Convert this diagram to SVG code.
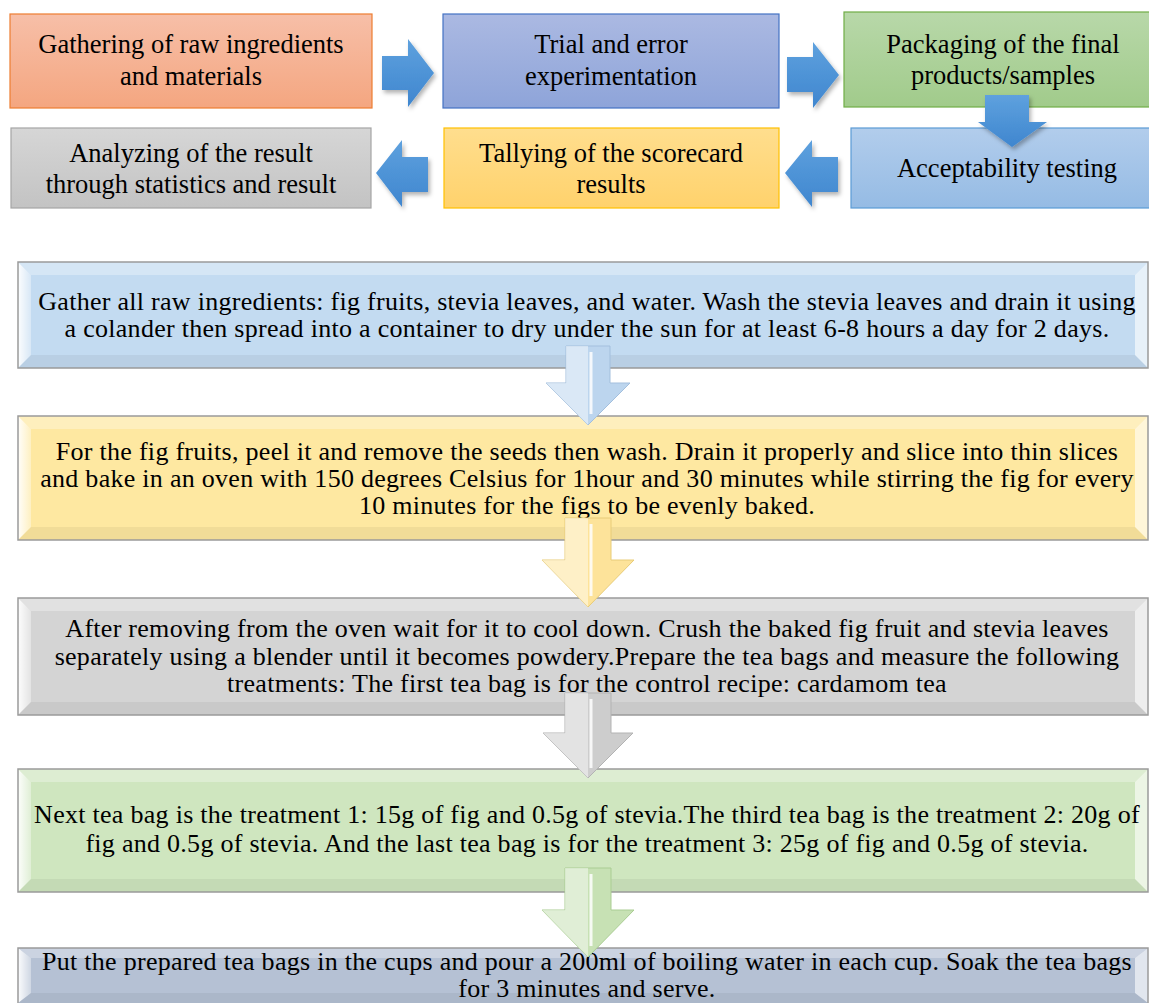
<svg xmlns="http://www.w3.org/2000/svg" width="1149" height="1003" viewBox="0 0 1149 1003">
<style>
.t{font-family:"Liberation Serif","Times New Roman",serif;fill:#000;text-anchor:middle}
.top{font-size:26.5px}
.bt{font-size:26px;letter-spacing:0.28px}
.edge{fill:none;stroke:#9a9a9a;stroke-width:1.5}
.hl{fill:#fff;opacity:.3}
.hl2{fill:url(#lbev)}
.hr{fill:#fff;opacity:.6}
.sh{fill:#000;opacity:.05}
.arr{fill:url(#ablue);filter:url(#ds)}
.darr-l{fill:#fff;opacity:.45}
.ridge{stroke:#fff;stroke-width:3;opacity:.85}
</style>
<defs>
<filter id="ds" x="-30%" y="-30%" width="160%" height="160%">
<feDropShadow dx="2" dy="3" stdDeviation="2" flood-color="#000" flood-opacity="0.3"/>
</filter>
<linearGradient id="ablue" x1="0" y1="0" x2="0" y2="1"><stop offset="0" stop-color="#5ea1de"/><stop offset="1" stop-color="#3f86cf"/></linearGradient>
<linearGradient id="g1" x1="0" y1="0" x2="0" y2="1"><stop offset="0" stop-color="#f7bfa8"/><stop offset="1" stop-color="#f4a680"/></linearGradient>
<linearGradient id="g2" x1="0" y1="0" x2="0" y2="1"><stop offset="0" stop-color="#abb9e2"/><stop offset="1" stop-color="#8ea4d9"/></linearGradient>
<linearGradient id="g3" x1="0" y1="0" x2="0" y2="1"><stop offset="0" stop-color="#b8d8a9"/><stop offset="1" stop-color="#a1cb8b"/></linearGradient>
<linearGradient id="g4" x1="0" y1="0" x2="0" y2="1"><stop offset="0" stop-color="#d6d6d6"/><stop offset="1" stop-color="#c3c3c3"/></linearGradient>
<linearGradient id="g5" x1="0" y1="0" x2="0" y2="1"><stop offset="0" stop-color="#ffde8e"/><stop offset="1" stop-color="#ffd26c"/></linearGradient>
<linearGradient id="g6" x1="0" y1="0" x2="0" y2="1"><stop offset="0" stop-color="#b2cdec"/><stop offset="1" stop-color="#95bbe4"/></linearGradient>
<linearGradient id="lbev" x1="0" y1="0" x2="1" y2="0"><stop offset="0" stop-color="#fff" stop-opacity=".95"/><stop offset="1" stop-color="#fff" stop-opacity=".35"/></linearGradient>
</defs>

<!-- top flow nodes -->
<g id="n1"><rect x="10" y="14" width="362" height="94" fill="url(#g1)" stroke="#ed7d31" stroke-width="1.2"/>
<text class="t top" x="191" y="53">Gathering of raw ingredients</text><text class="t top" x="191" y="85">and materials</text></g>
<g id="n2"><rect x="443" y="14" width="336" height="94" fill="url(#g2)" stroke="#4472c4" stroke-width="1.2"/>
<text class="t top" x="611" y="53">Trial and error</text><text class="t top" x="611" y="85">experimentation</text></g>
<g id="n3"><rect x="844" y="12" width="340" height="95" fill="url(#g3)" stroke="#70ad47" stroke-width="1.2"/>
<text class="t top" x="1003" y="53">Packaging of the final</text><text class="t top" x="1003" y="84">products/samples</text></g>
<g id="n4"><rect x="11" y="128" width="360" height="80" fill="url(#g4)" stroke="#a5a5a5" stroke-width="1.2"/>
<text class="t top" x="191" y="162">Analyzing of the result</text><text class="t top" x="191" y="193">through statistics and result</text></g>
<g id="n5"><rect x="444" y="128" width="335" height="80" fill="url(#g5)" stroke="#ffc000" stroke-width="1.2"/>
<text class="t top" x="611" y="162">Tallying of the scorecard</text><text class="t top" x="611" y="193">results</text></g>
<g id="n6"><rect x="851" y="128" width="310" height="80" fill="url(#g6)" stroke="#5b9bd5" stroke-width="1.2"/>
<text class="t top" x="1007" y="177">Acceptability testing</text></g>

<!-- bevel nodes -->
<g id="s1">
<rect x="18" y="262" width="1130" height="106" fill="#c3dbf1"/>
<polygon class="hl" points="18,262 1148,262 1135,275 31,275"/>
<polygon class="hl2" points="18,262 31,275 31,355 18,368"/>
<polygon class="hr" points="1148,262 1148,368 1135,355 1135,275"/>
<polygon class="sh" points="18,368 1148,368 1135,355 31,355"/>
<rect class="edge" x="18" y="262" width="1130" height="106"/>
<text class="t bt" x="587" y="310">Gather all raw ingredients: fig fruits, stevia leaves, and water. Wash the stevia leaves and drain it using</text>
<text class="t bt" x="587" y="337">a colander then spread into a container to dry under the sun for at least 6-8 hours a day for 2 days.</text>
</g>
<g id="s2">
<rect x="18" y="416" width="1130" height="124" fill="#fee8a1"/>
<polygon class="hl" points="18,416 1148,416 1135,429 31,429"/>
<polygon class="hl2" points="18,416 31,429 31,527 18,540"/>
<polygon class="hr" points="1148,416 1148,540 1135,527 1135,429"/>
<polygon class="sh" points="18,540 1148,540 1135,527 31,527"/>
<rect class="edge" x="18" y="416" width="1130" height="124"/>
<text class="t bt" x="587" y="460">For the fig fruits, peel it and remove the seeds then wash. Drain it properly and slice into thin slices</text>
<text class="t bt" x="587" y="487">and bake in an oven with 150 degrees Celsius for 1hour and 30 minutes while stirring the fig for every</text>
<text class="t bt" x="587" y="514">10 minutes for the figs to be evenly baked.</text>
</g>
<g id="s3">
<rect x="18" y="598" width="1130" height="117" fill="#d4d4d4"/>
<polygon class="hl" points="18,598 1148,598 1135,611 31,611"/>
<polygon class="hl2" points="18,598 31,611 31,702 18,715"/>
<polygon class="hr" points="1148,598 1148,715 1135,702 1135,611"/>
<polygon class="sh" points="18,715 1148,715 1135,702 31,702"/>
<rect class="edge" x="18" y="598" width="1130" height="117"/>
<text class="t bt" x="587" y="637">After removing from the oven wait for it to cool down. Crush the baked fig fruit and stevia leaves</text>
<text class="t bt" x="587" y="665">separately using a blender until it becomes powdery.Prepare the tea bags and measure the following</text>
<text class="t bt" x="587" y="692">treatments: The first tea bag is for the control recipe: cardamom tea</text>
</g>
<g id="s4">
<rect x="18" y="769" width="1130" height="123" fill="#cfe6bf"/>
<polygon class="hl" points="18,769 1148,769 1135,782 31,782"/>
<polygon class="hl2" points="18,769 31,782 31,879 18,892"/>
<polygon class="hr" points="1148,769 1148,892 1135,879 1135,782"/>
<polygon class="sh" points="18,892 1148,892 1135,879 31,879"/>
<rect class="edge" x="18" y="769" width="1130" height="123"/>
<text class="t bt" x="587" y="823">Next tea bag is the treatment 1: 15g of fig and 0.5g of stevia.The third tea bag is the treatment 2: 20g of</text>
<text class="t bt" x="587" y="852">fig and 0.5g of stevia. And the last tea bag is for the treatment 3: 25g of fig and 0.5g of stevia.</text>
</g>
<g id="s5">
<rect x="18" y="948" width="1130" height="55" fill="#b5c1d4"/>
<polygon class="hl" points="18,948 1148,948 1135,958 31,958"/>
<polygon class="hl2" points="18,948 31,958 31,993 18,1003"/>
<polygon class="hr" points="1148,948 1148,1003 1135,993 1135,958"/>
<polygon class="sh" points="18,1003 1148,1003 1135,993 31,993"/>
<rect class="edge" x="18" y="948" width="1130" height="60"/>
<text class="t bt" x="587" y="970">Put the prepared tea bags in the cups and pour a 200ml of boiling water in each cup. Soak the tea bags</text>
<text class="t bt" x="587" y="997">for 3 minutes and serve.</text>
</g>

<!-- connectors -->
<g id="connectors">
<polygon class="arr" points="382,56 408,56 408,39 434,73 408,107 408,90 382,90"/>
<polygon class="arr" points="787,57 813,57 813,42 839,75 813,108 813,92 787,92"/>
<polygon class="arr" points="985,95 1029,95 1029,122 1047,122 1012,147 978,122 985,122"/>
<polygon class="arr" points="838,157 812,157 812,140 785,173 812,207 812,192 838,192"/>
<polygon class="arr" points="428,157 402,157 402,140 376,173 402,207 402,192 428,192"/>

<g id="d1">
<polygon points="566,346 610,346 610,383 630,383 588,425 546,383 566,383" fill="#bcd5ee" stroke="#a3bfdd" stroke-width="1"/>
<polygon class="darr-l" points="566,346 588,346 588,425 546,383 566,383"/>
<line class="ridge" x1="591" y1="352" x2="591" y2="414"/>
</g>
<g id="d2">
<polygon points="565,518 611,518 611,560 634,560 588,607 542,560 565,560" fill="#fde39a" stroke="#e8cc78" stroke-width="1"/>
<polygon class="darr-l" points="565,518 588,518 588,607 542,560 565,560"/>
<line class="ridge" x1="591" y1="524" x2="591" y2="596"/>
</g>
<g id="d3">
<polygon points="565,693 611,693 611,733 633,733 588,778 543,733 565,733" fill="#cdcdcd" stroke="#b3b3b3" stroke-width="1"/>
<polygon class="darr-l" points="565,693 588,693 588,778 543,733 565,733"/>
<line class="ridge" x1="591" y1="699" x2="591" y2="768"/>
</g>
<g id="d4">
<polygon points="565,868 611,868 611,910 634,910 588,957 542,910 565,910" fill="#c7e1b4" stroke="#aacd93" stroke-width="1"/>
<polygon class="darr-l" points="565,868 588,868 588,957 542,910 565,910"/>
<line class="ridge" x1="591" y1="874" x2="591" y2="946"/>
</g>
</g>
</svg>
